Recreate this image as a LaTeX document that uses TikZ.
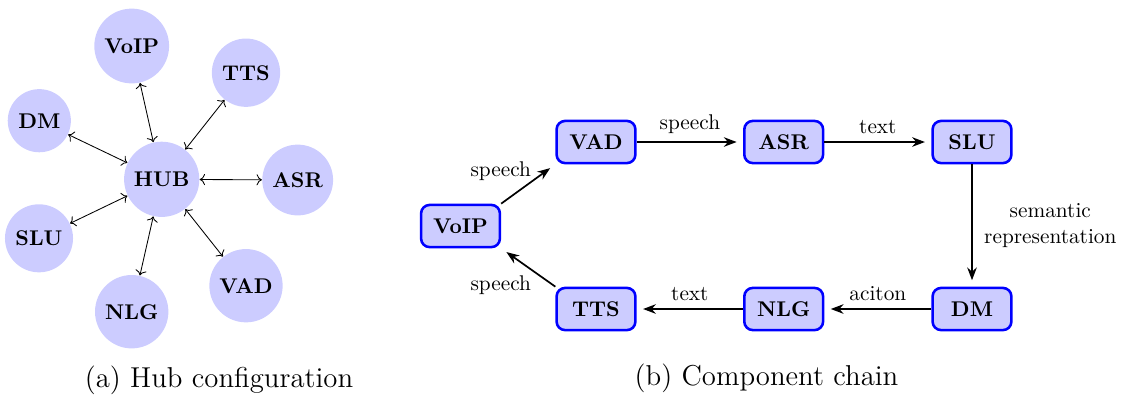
\documentclass[tikz,border=0pt]{standalone}
\usetikzlibrary{arrows.meta}
\begin{document}
\begin{tikzpicture}[x=0.4695pt,y=-0.4695pt,
  hubnode/.style={circle,fill=blue!20,font=\bfseries},
  chainbox/.style={rectangle,rounded corners=4pt,draw=blue,very thick,fill=blue!20,
    font=\bfseries,minimum width=37pt,minimum height=19.8pt},
  link/.style={<->},
  flow/.style={thick,-{Stealth[length=6pt,width=4.5pt]},shorten >=3pt},
  lbl/.style={font=\normalsize},
  capt/.style={font=\fontsize{13.5}{16}\selectfont}]
\useasboundingbox (0,0) rectangle (1130,396);

% (a) hub configuration
\node[hubnode] (hub)  at (161.7,179.3) {HUB};
\node[hubnode] (voip) at (131.7,46)    {VoIP};
\node[hubnode] (tts)  at (246,72.7)    {TTS};
\node[hubnode] (dm)   at (39.3,120.7)  {DM};
\node[hubnode] (asr)  at (297.7,180)   {ASR};
\node[hubnode] (slu)  at (39,238.3)    {SLU};
\node[hubnode] (nlg)  at (131.7,311.7) {NLG};
\node[hubnode] (vad)  at (246,285.7)   {VAD};
\foreach \n in {voip,tts,dm,asr,slu,nlg,vad}
  \draw[link] (hub) -- (\n);
\node[capt] (capa) at (219,380) {(a) Hub configuration};

% (b) component chain
\node[chainbox] (cvoip) at (460.5,226) {VoIP};
\node[chainbox] (cvad)  at (596,142)   {VAD};
\node[chainbox] (casr)  at (783.7,142) {ASR};
\node[chainbox] (cslu)  at (972,142)   {SLU};
\node[chainbox] (cdm)   at (972,309)   {DM};
\node[chainbox] (cnlg)  at (783.7,309) {NLG};
\node[chainbox] (ctts)  at (596,309)   {TTS};

\draw[flow] (cvoip.north east) -- node[lbl,above left,xshift=5pt,yshift=-2.3pt] {speech} (cvad.south west);
\draw[flow] (cvad) -- node[lbl,above] {speech} (casr);
\draw[flow] (casr) -- node[lbl,above] {text} (cslu);
\draw[flow] (cslu) -- node[lbl,right,align=center,xshift=2pt] {semantic\\representation} (cdm);
\draw[flow] (cdm) -- node[lbl,above] {aciton} (cnlg);
\draw[flow] (cnlg) -- node[lbl,above] {text} (ctts);
\draw[flow] (ctts.north west) -- node[lbl,below left,xshift=5pt] {speech} (cvoip.south east);
\node[capt] (capb) at (766.5,378) {(b) Component chain};
\end{tikzpicture}
\end{document}
